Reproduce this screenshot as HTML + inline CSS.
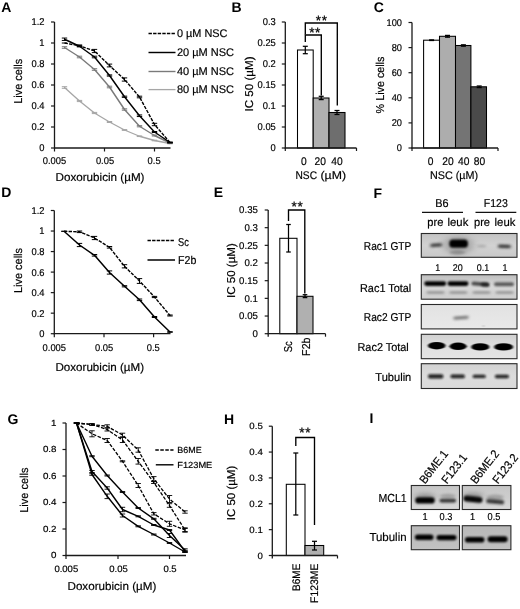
<!DOCTYPE html>
<html lang="en"><head><meta charset="utf-8"><title>Figure</title>
<style>html,body{margin:0;padding:0;background:#fff}body{width:520px;height:609px;overflow:hidden}svg{display:block}text{font-family:"Liberation Sans",Arial,sans-serif}</style>
</head><body>
<svg width="520" height="609" viewBox="0 0 520 609" font-family="Liberation Sans, Arial, sans-serif" text-rendering="geometricPrecision">
<defs>
<filter id="b1" x="-30%" y="-60%" width="160%" height="220%"><feGaussianBlur stdDeviation="1.1 0.8"/></filter>
<filter id="b2" x="-30%" y="-80%" width="160%" height="260%"><feGaussianBlur stdDeviation="1.6 1.1"/></filter>
<filter id="b4" x="-50%" y="-80%" width="200%" height="260%"><feGaussianBlur stdDeviation="3 2.2"/></filter>
<filter id="b3" x="-30%" y="-80%" width="160%" height="260%"><feGaussianBlur stdDeviation="0.8 0.6"/></filter>
<linearGradient id="g1" x1="0" y1="0" x2="0" y2="1"><stop offset="0" stop-color="#c3c3c3"/><stop offset="0.5" stop-color="#d2d2d2"/><stop offset="1" stop-color="#c8c8c8"/></linearGradient>
<linearGradient id="g2" x1="0" y1="0" x2="0" y2="1"><stop offset="0" stop-color="#bdbdbd"/><stop offset="0.45" stop-color="#d9d9d9"/><stop offset="1" stop-color="#cfcfcf"/></linearGradient>
<linearGradient id="g3" x1="0" y1="0" x2="0" y2="1"><stop offset="0" stop-color="#e2e2e2"/><stop offset="1" stop-color="#e9e9e9"/></linearGradient>
<linearGradient id="g4" x1="0" y1="0" x2="0" y2="1"><stop offset="0" stop-color="#d0d0d0"/><stop offset="0.5" stop-color="#e0e0e0"/><stop offset="1" stop-color="#e4e4e4"/></linearGradient>
<linearGradient id="g5" x1="0" y1="0" x2="0" y2="1"><stop offset="0" stop-color="#d0d0d0"/><stop offset="1" stop-color="#c4c4c4"/></linearGradient>
<linearGradient id="g7" x1="0" y1="0" x2="0" y2="1"><stop offset="0" stop-color="#d2d2d2"/><stop offset="0.5" stop-color="#dcdcdc"/><stop offset="1" stop-color="#dadada"/></linearGradient>
<linearGradient id="g8" x1="0" y1="0" x2="0" y2="1"><stop offset="0" stop-color="#c6c6c6"/><stop offset="0.55" stop-color="#cecece"/><stop offset="1" stop-color="#dadada"/></linearGradient>
<linearGradient id="g6" x1="0" y1="0" x2="0" y2="1"><stop offset="0" stop-color="#b8b8b8"/><stop offset="1" stop-color="#c2c2c2"/></linearGradient>
</defs>
<rect width="520" height="609" fill="#fff"/>
<text transform="translate(1.2 11.9) scale(1 1)" font-size="14" text-anchor="start" font-weight="bold" fill="#000">A</text>
<line x1="54.5" y1="22" x2="54.5" y2="148.5" stroke="#1a1a1a" stroke-width="1.3"/>
<line x1="54.0" y1="148" x2="170.5" y2="148" stroke="#1a1a1a" stroke-width="1.3"/>
<line x1="51.0" y1="148" x2="54.5" y2="148" stroke="#1a1a1a" stroke-width="1.2"/>
<text transform="translate(44.5 151.4) scale(0.95 1)" font-size="9.86" text-anchor="end" fill="#000" stroke="#000" stroke-width="0.18">0</text>
<line x1="51.0" y1="127" x2="54.5" y2="127" stroke="#1a1a1a" stroke-width="1.2"/>
<text transform="translate(44.5 130.4) scale(0.95 1)" font-size="9.86" text-anchor="end" fill="#000" stroke="#000" stroke-width="0.18">0.2</text>
<line x1="51.0" y1="106" x2="54.5" y2="106" stroke="#1a1a1a" stroke-width="1.2"/>
<text transform="translate(44.5 109.4) scale(0.95 1)" font-size="9.86" text-anchor="end" fill="#000" stroke="#000" stroke-width="0.18">0.4</text>
<line x1="51.0" y1="85" x2="54.5" y2="85" stroke="#1a1a1a" stroke-width="1.2"/>
<text transform="translate(44.5 88.4) scale(0.95 1)" font-size="9.86" text-anchor="end" fill="#000" stroke="#000" stroke-width="0.18">0.6</text>
<line x1="51.0" y1="64" x2="54.5" y2="64" stroke="#1a1a1a" stroke-width="1.2"/>
<text transform="translate(44.5 67.4) scale(0.95 1)" font-size="9.86" text-anchor="end" fill="#000" stroke="#000" stroke-width="0.18">0.8</text>
<line x1="51.0" y1="43" x2="54.5" y2="43" stroke="#1a1a1a" stroke-width="1.2"/>
<text transform="translate(44.5 46.4) scale(0.95 1)" font-size="9.86" text-anchor="end" fill="#000" stroke="#000" stroke-width="0.18">1</text>
<line x1="51.0" y1="22" x2="54.5" y2="22" stroke="#1a1a1a" stroke-width="1.2"/>
<text transform="translate(44.5 25.4) scale(0.95 1)" font-size="9.86" text-anchor="end" fill="#000" stroke="#000" stroke-width="0.18">1.2</text>
<line x1="54.5" y1="148" x2="54.5" y2="151.5" stroke="#1a1a1a" stroke-width="1.2"/>
<text transform="translate(54.5 164.4) scale(0.95 1)" font-size="9.86" text-anchor="middle" fill="#000" stroke="#000" stroke-width="0.18">0.005</text>
<line x1="104.5" y1="148" x2="104.5" y2="151.5" stroke="#1a1a1a" stroke-width="1.2"/>
<text transform="translate(105.0 164.4) scale(0.95 1)" font-size="9.86" text-anchor="middle" fill="#000" stroke="#000" stroke-width="0.18">0.05</text>
<line x1="154.5" y1="148" x2="154.5" y2="151.5" stroke="#1a1a1a" stroke-width="1.2"/>
<text transform="translate(154.1 164.4) scale(0.95 1)" font-size="9.86" text-anchor="middle" fill="#000" stroke="#000" stroke-width="0.18">0.5</text>
<text transform="translate(22.4 81.3) rotate(-90) scale(0.955 1)" font-size="11.45" text-anchor="middle" fill="#000" stroke="#000" stroke-width="0.18">Live cells</text>
<text transform="translate(55.5 180.8)" font-size="11.45" text-anchor="start" textLength="89" lengthAdjust="spacingAndGlyphs" fill="#000" stroke="#000" stroke-width="0.18">Doxorubicin (µM)</text>
<polyline points="64.50,87.50 79.50,101.00 94.50,113.00 109.50,122.00 124.50,130.00 139.50,136.25 154.50,140.50 170.00,143.50" fill="none" stroke="#a6a6a6" stroke-width="1.3" stroke-linejoin="round"/>
<line x1="64.5" y1="86.7" x2="64.5" y2="88.3" stroke="#a6a6a6" stroke-width="1"/>
<line x1="61.8" y1="86.7" x2="67.2" y2="86.7" stroke="#a6a6a6" stroke-width="1"/>
<line x1="61.8" y1="88.3" x2="67.2" y2="88.3" stroke="#a6a6a6" stroke-width="1"/>
<line x1="79.5" y1="100.4" x2="79.5" y2="101.6" stroke="#a6a6a6" stroke-width="1"/>
<line x1="76.8" y1="100.4" x2="82.2" y2="100.4" stroke="#a6a6a6" stroke-width="1"/>
<line x1="76.8" y1="101.6" x2="82.2" y2="101.6" stroke="#a6a6a6" stroke-width="1"/>
<line x1="94.5" y1="112.4" x2="94.5" y2="113.6" stroke="#a6a6a6" stroke-width="1"/>
<line x1="91.8" y1="112.4" x2="97.2" y2="112.4" stroke="#a6a6a6" stroke-width="1"/>
<line x1="91.8" y1="113.6" x2="97.2" y2="113.6" stroke="#a6a6a6" stroke-width="1"/>
<line x1="109.5" y1="121.5" x2="109.5" y2="122.5" stroke="#a6a6a6" stroke-width="1"/>
<line x1="106.8" y1="121.5" x2="112.2" y2="121.5" stroke="#a6a6a6" stroke-width="1"/>
<line x1="106.8" y1="122.5" x2="112.2" y2="122.5" stroke="#a6a6a6" stroke-width="1"/>
<line x1="124.5" y1="129.6" x2="124.5" y2="130.4" stroke="#a6a6a6" stroke-width="1"/>
<line x1="121.8" y1="129.6" x2="127.2" y2="129.6" stroke="#a6a6a6" stroke-width="1"/>
<line x1="121.8" y1="130.4" x2="127.2" y2="130.4" stroke="#a6a6a6" stroke-width="1"/>
<line x1="139.5" y1="135.95" x2="139.5" y2="136.55" stroke="#a6a6a6" stroke-width="1"/>
<line x1="136.8" y1="135.95" x2="142.2" y2="135.95" stroke="#a6a6a6" stroke-width="1"/>
<line x1="136.8" y1="136.55" x2="142.2" y2="136.55" stroke="#a6a6a6" stroke-width="1"/>
<line x1="154.5" y1="140.2" x2="154.5" y2="140.8" stroke="#a6a6a6" stroke-width="1"/>
<line x1="151.8" y1="140.2" x2="157.2" y2="140.2" stroke="#a6a6a6" stroke-width="1"/>
<line x1="151.8" y1="140.8" x2="157.2" y2="140.8" stroke="#a6a6a6" stroke-width="1"/>
<line x1="170" y1="143.2" x2="170" y2="143.8" stroke="#a6a6a6" stroke-width="1"/>
<line x1="167.3" y1="143.2" x2="172.7" y2="143.2" stroke="#a6a6a6" stroke-width="1"/>
<line x1="167.3" y1="143.8" x2="172.7" y2="143.8" stroke="#a6a6a6" stroke-width="1"/>
<polyline points="64.50,47.50 79.50,57.00 94.50,69.50 109.50,87.00 124.50,109.50 139.50,126.25 154.50,135.50 170.00,143.00" fill="none" stroke="#7a7a7a" stroke-width="1.4" stroke-linejoin="round"/>
<line x1="64.5" y1="46.7" x2="64.5" y2="48.3" stroke="#7a7a7a" stroke-width="1"/>
<line x1="61.8" y1="46.7" x2="67.2" y2="46.7" stroke="#7a7a7a" stroke-width="1"/>
<line x1="61.8" y1="48.3" x2="67.2" y2="48.3" stroke="#7a7a7a" stroke-width="1"/>
<line x1="79.5" y1="56.2" x2="79.5" y2="57.8" stroke="#7a7a7a" stroke-width="1"/>
<line x1="76.8" y1="56.2" x2="82.2" y2="56.2" stroke="#7a7a7a" stroke-width="1"/>
<line x1="76.8" y1="57.8" x2="82.2" y2="57.8" stroke="#7a7a7a" stroke-width="1"/>
<line x1="94.5" y1="68.7" x2="94.5" y2="70.3" stroke="#7a7a7a" stroke-width="1"/>
<line x1="91.8" y1="68.7" x2="97.2" y2="68.7" stroke="#7a7a7a" stroke-width="1"/>
<line x1="91.8" y1="70.3" x2="97.2" y2="70.3" stroke="#7a7a7a" stroke-width="1"/>
<line x1="109.5" y1="86.2" x2="109.5" y2="87.8" stroke="#7a7a7a" stroke-width="1"/>
<line x1="106.8" y1="86.2" x2="112.2" y2="86.2" stroke="#7a7a7a" stroke-width="1"/>
<line x1="106.8" y1="87.8" x2="112.2" y2="87.8" stroke="#7a7a7a" stroke-width="1"/>
<line x1="124.5" y1="108.8" x2="124.5" y2="110.2" stroke="#7a7a7a" stroke-width="1"/>
<line x1="121.8" y1="108.8" x2="127.2" y2="108.8" stroke="#7a7a7a" stroke-width="1"/>
<line x1="121.8" y1="110.2" x2="127.2" y2="110.2" stroke="#7a7a7a" stroke-width="1"/>
<line x1="139.5" y1="125.65" x2="139.5" y2="126.85" stroke="#7a7a7a" stroke-width="1"/>
<line x1="136.8" y1="125.65" x2="142.2" y2="125.65" stroke="#7a7a7a" stroke-width="1"/>
<line x1="136.8" y1="126.85" x2="142.2" y2="126.85" stroke="#7a7a7a" stroke-width="1"/>
<line x1="154.5" y1="135.0" x2="154.5" y2="136.0" stroke="#7a7a7a" stroke-width="1"/>
<line x1="151.8" y1="135.0" x2="157.2" y2="135.0" stroke="#7a7a7a" stroke-width="1"/>
<line x1="151.8" y1="136.0" x2="157.2" y2="136.0" stroke="#7a7a7a" stroke-width="1"/>
<line x1="170" y1="142.7" x2="170" y2="143.3" stroke="#7a7a7a" stroke-width="1"/>
<line x1="167.3" y1="142.7" x2="172.7" y2="142.7" stroke="#7a7a7a" stroke-width="1"/>
<line x1="167.3" y1="143.3" x2="172.7" y2="143.3" stroke="#7a7a7a" stroke-width="1"/>
<polyline points="64.50,39.25 79.50,46.25 94.50,57.00 109.50,75.50 124.50,96.75 139.50,115.75 154.50,132.00 170.00,142.50" fill="none" stroke="#000" stroke-width="1.45" stroke-linejoin="round"/>
<line x1="64.5" y1="38.05" x2="64.5" y2="40.45" stroke="#000" stroke-width="1"/>
<line x1="61.8" y1="38.05" x2="67.2" y2="38.05" stroke="#000" stroke-width="1"/>
<line x1="61.8" y1="40.45" x2="67.2" y2="40.45" stroke="#000" stroke-width="1"/>
<line x1="79.5" y1="45.65" x2="79.5" y2="46.85" stroke="#000" stroke-width="1"/>
<line x1="76.8" y1="45.65" x2="82.2" y2="45.65" stroke="#000" stroke-width="1"/>
<line x1="76.8" y1="46.85" x2="82.2" y2="46.85" stroke="#000" stroke-width="1"/>
<line x1="94.5" y1="56.2" x2="94.5" y2="57.8" stroke="#000" stroke-width="1"/>
<line x1="91.8" y1="56.2" x2="97.2" y2="56.2" stroke="#000" stroke-width="1"/>
<line x1="91.8" y1="57.8" x2="97.2" y2="57.8" stroke="#000" stroke-width="1"/>
<line x1="109.5" y1="74.9" x2="109.5" y2="76.1" stroke="#000" stroke-width="1"/>
<line x1="106.8" y1="74.9" x2="112.2" y2="74.9" stroke="#000" stroke-width="1"/>
<line x1="106.8" y1="76.1" x2="112.2" y2="76.1" stroke="#000" stroke-width="1"/>
<line x1="124.5" y1="96.15" x2="124.5" y2="97.35" stroke="#000" stroke-width="1"/>
<line x1="121.8" y1="96.15" x2="127.2" y2="96.15" stroke="#000" stroke-width="1"/>
<line x1="121.8" y1="97.35" x2="127.2" y2="97.35" stroke="#000" stroke-width="1"/>
<line x1="139.5" y1="114.95" x2="139.5" y2="116.55" stroke="#000" stroke-width="1"/>
<line x1="136.8" y1="114.95" x2="142.2" y2="114.95" stroke="#000" stroke-width="1"/>
<line x1="136.8" y1="116.55" x2="142.2" y2="116.55" stroke="#000" stroke-width="1"/>
<line x1="154.5" y1="131.5" x2="154.5" y2="132.5" stroke="#000" stroke-width="1"/>
<line x1="151.8" y1="131.5" x2="157.2" y2="131.5" stroke="#000" stroke-width="1"/>
<line x1="151.8" y1="132.5" x2="157.2" y2="132.5" stroke="#000" stroke-width="1"/>
<line x1="170" y1="142.2" x2="170" y2="142.8" stroke="#000" stroke-width="1"/>
<line x1="167.3" y1="142.2" x2="172.7" y2="142.2" stroke="#000" stroke-width="1"/>
<line x1="167.3" y1="142.8" x2="172.7" y2="142.8" stroke="#000" stroke-width="1"/>
<polyline points="64.50,43.00 79.50,45.75 94.50,51.00 109.50,65.50 124.50,79.50 139.50,97.00 154.50,124.50 170.00,142.50" fill="none" stroke="#000" stroke-width="1.4" stroke-linejoin="round" stroke-dasharray="3.4 1.2"/>
<line x1="61.8" y1="43" x2="67.2" y2="43" stroke="#000" stroke-width="1"/>
<line x1="79.5" y1="44.95" x2="79.5" y2="46.55" stroke="#000" stroke-width="1"/>
<line x1="76.8" y1="44.95" x2="82.2" y2="44.95" stroke="#000" stroke-width="1"/>
<line x1="76.8" y1="46.55" x2="82.2" y2="46.55" stroke="#000" stroke-width="1"/>
<line x1="94.5" y1="49.4" x2="94.5" y2="52.6" stroke="#000" stroke-width="1"/>
<line x1="91.8" y1="49.4" x2="97.2" y2="49.4" stroke="#000" stroke-width="1"/>
<line x1="91.8" y1="52.6" x2="97.2" y2="52.6" stroke="#000" stroke-width="1"/>
<line x1="109.5" y1="64.1" x2="109.5" y2="66.9" stroke="#000" stroke-width="1"/>
<line x1="106.8" y1="64.1" x2="112.2" y2="64.1" stroke="#000" stroke-width="1"/>
<line x1="106.8" y1="66.9" x2="112.2" y2="66.9" stroke="#000" stroke-width="1"/>
<line x1="124.5" y1="77.9" x2="124.5" y2="81.1" stroke="#000" stroke-width="1"/>
<line x1="121.8" y1="77.9" x2="127.2" y2="77.9" stroke="#000" stroke-width="1"/>
<line x1="121.8" y1="81.1" x2="127.2" y2="81.1" stroke="#000" stroke-width="1"/>
<line x1="139.5" y1="96.2" x2="139.5" y2="97.8" stroke="#000" stroke-width="1"/>
<line x1="136.8" y1="96.2" x2="142.2" y2="96.2" stroke="#000" stroke-width="1"/>
<line x1="136.8" y1="97.8" x2="142.2" y2="97.8" stroke="#000" stroke-width="1"/>
<line x1="154.5" y1="123.3" x2="154.5" y2="125.7" stroke="#000" stroke-width="1"/>
<line x1="151.8" y1="123.3" x2="157.2" y2="123.3" stroke="#000" stroke-width="1"/>
<line x1="151.8" y1="125.7" x2="157.2" y2="125.7" stroke="#000" stroke-width="1"/>
<line x1="170" y1="142.2" x2="170" y2="142.8" stroke="#000" stroke-width="1"/>
<line x1="167.3" y1="142.2" x2="172.7" y2="142.2" stroke="#000" stroke-width="1"/>
<line x1="167.3" y1="142.8" x2="172.7" y2="142.8" stroke="#000" stroke-width="1"/>
<line x1="148.5" y1="33.5" x2="175.5" y2="33.5" stroke="#000" stroke-width="1.4" stroke-dasharray="3.4 1.2"/>
<text transform="translate(177 37.3)" font-size="11.13" text-anchor="start" textLength="50.5" lengthAdjust="spacingAndGlyphs" fill="#000" stroke="#000" stroke-width="0.18">0 µM NSC</text>
<line x1="148.5" y1="52.5" x2="175.5" y2="52.5" stroke="#000" stroke-width="1.45"/>
<text transform="translate(177 56.3)" font-size="11.13" text-anchor="start" textLength="57" lengthAdjust="spacingAndGlyphs" fill="#000" stroke="#000" stroke-width="0.18">20 µM NSC</text>
<line x1="148.5" y1="71.5" x2="175.5" y2="71.5" stroke="#7a7a7a" stroke-width="1.4"/>
<text transform="translate(177 75.3)" font-size="11.13" text-anchor="start" textLength="57" lengthAdjust="spacingAndGlyphs" fill="#000" stroke="#000" stroke-width="0.18">40 µM NSC</text>
<line x1="148.5" y1="89.6" x2="175.5" y2="89.6" stroke="#a6a6a6" stroke-width="1.3"/>
<text transform="translate(177 93.39999999999999)" font-size="11.13" text-anchor="start" textLength="57" lengthAdjust="spacingAndGlyphs" fill="#000" stroke="#000" stroke-width="0.18">80 µM NSC</text>
<text transform="translate(231.6 12) scale(1 1)" font-size="14" text-anchor="start" font-weight="bold" fill="#000">B</text>
<line x1="281.8" y1="148" x2="285.3" y2="148" stroke="#1a1a1a" stroke-width="1.2"/>
<text transform="translate(275.8 151.4) scale(0.95 1)" font-size="9.86" text-anchor="end" fill="#000" stroke="#000" stroke-width="0.18">0</text>
<line x1="281.8" y1="127" x2="285.3" y2="127" stroke="#1a1a1a" stroke-width="1.2"/>
<text transform="translate(275.8 130.4) scale(0.95 1)" font-size="9.86" text-anchor="end" fill="#000" stroke="#000" stroke-width="0.18">0.05</text>
<line x1="281.8" y1="106" x2="285.3" y2="106" stroke="#1a1a1a" stroke-width="1.2"/>
<text transform="translate(275.8 109.4) scale(0.95 1)" font-size="9.86" text-anchor="end" fill="#000" stroke="#000" stroke-width="0.18">0.1</text>
<line x1="281.8" y1="85" x2="285.3" y2="85" stroke="#1a1a1a" stroke-width="1.2"/>
<text transform="translate(275.8 88.4) scale(0.95 1)" font-size="9.86" text-anchor="end" fill="#000" stroke="#000" stroke-width="0.18">0.15</text>
<line x1="281.8" y1="64" x2="285.3" y2="64" stroke="#1a1a1a" stroke-width="1.2"/>
<text transform="translate(275.8 67.4) scale(0.95 1)" font-size="9.86" text-anchor="end" fill="#000" stroke="#000" stroke-width="0.18">0.2</text>
<line x1="281.8" y1="43" x2="285.3" y2="43" stroke="#1a1a1a" stroke-width="1.2"/>
<text transform="translate(275.8 46.4) scale(0.95 1)" font-size="9.86" text-anchor="end" fill="#000" stroke="#000" stroke-width="0.18">0.25</text>
<line x1="281.8" y1="22" x2="285.3" y2="22" stroke="#1a1a1a" stroke-width="1.2"/>
<text transform="translate(275.8 25.4) scale(0.95 1)" font-size="9.86" text-anchor="end" fill="#000" stroke="#000" stroke-width="0.18">0.3</text>
<rect x="297.5" y="50" width="15.7" height="98" fill="#fff" stroke="#000" stroke-width="1.05"/>
<rect x="313.2" y="98" width="15.8" height="50" fill="#b0b0b0" stroke="#000" stroke-width="1.05"/>
<rect x="329" y="112.5" width="16" height="35.5" fill="#6e6e6e" stroke="#000" stroke-width="1.05"/>
<line x1="285.3" y1="22" x2="285.3" y2="148.5" stroke="#1a1a1a" stroke-width="1.3"/>
<line x1="284.8" y1="148" x2="356.5" y2="148" stroke="#1a1a1a" stroke-width="1.3"/>
<line x1="356.5" y1="148" x2="356.5" y2="151" stroke="#1a1a1a" stroke-width="1.2"/>
<line x1="285.3" y1="148" x2="285.3" y2="151" stroke="#1a1a1a" stroke-width="1.2"/>
<line x1="305.3" y1="46.3" x2="305.3" y2="53.7" stroke="#000" stroke-width="1.25"/>
<line x1="302.8" y1="46.3" x2="307.8" y2="46.3" stroke="#000" stroke-width="1.25"/>
<line x1="302.8" y1="53.7" x2="307.8" y2="53.7" stroke="#000" stroke-width="1.25"/>
<line x1="321.2" y1="96.3" x2="321.2" y2="99.6" stroke="#000" stroke-width="1.25"/>
<line x1="318.7" y1="96.3" x2="323.7" y2="96.3" stroke="#000" stroke-width="1.25"/>
<line x1="318.7" y1="99.6" x2="323.7" y2="99.6" stroke="#000" stroke-width="1.25"/>
<line x1="337" y1="110.5" x2="337" y2="114.5" stroke="#000" stroke-width="1.25"/>
<line x1="334.5" y1="110.5" x2="339.5" y2="110.5" stroke="#000" stroke-width="1.25"/>
<line x1="334.5" y1="114.5" x2="339.5" y2="114.5" stroke="#000" stroke-width="1.25"/>
<polyline points="305.3,42 305.3,35 321.3,35 321.3,95.5" fill="none" stroke="#000" stroke-width="1.35"/>
<polyline points="305.3,34.5 305.3,23 337.3,23 337.3,105.5" fill="none" stroke="#000" stroke-width="1.35"/>
<text transform="translate(315.1 37.4) scale(1.0 1)" font-size="13.5" text-anchor="middle" fill="#000" stroke="#000" stroke-width="0.25" letter-spacing="0.7">**</text>
<text transform="translate(321.8 24.9) scale(1.0 1)" font-size="13.5" text-anchor="middle" fill="#000" stroke="#000" stroke-width="0.25" letter-spacing="0.7">**</text>
<text transform="translate(303.8 164.5) scale(0.93 1)" font-size="11.02" text-anchor="middle" fill="#000" stroke="#000" stroke-width="0.18">0</text>
<text transform="translate(320.3 164.5) scale(0.93 1)" font-size="11.02" text-anchor="middle" fill="#000" stroke="#000" stroke-width="0.18">20</text>
<text transform="translate(337 164.5) scale(0.93 1)" font-size="11.02" text-anchor="middle" fill="#000" stroke="#000" stroke-width="0.18">40</text>
<text transform="translate(295.5 178.8) scale(0.915 1)" font-size="11.13" text-anchor="start" fill="#000" stroke="#000" stroke-width="0.18">NSC</text>
<text transform="translate(320.5 178.8)" font-size="11.13" text-anchor="start" textLength="25.5" lengthAdjust="spacingAndGlyphs" fill="#000" stroke="#000" stroke-width="0.18">(µM)</text>
<text transform="translate(253.4 84) rotate(-90) scale(1.015 1)" font-size="11.45" text-anchor="middle" fill="#000" stroke="#000" stroke-width="0.18">IC 50 (µM)</text>
<text transform="translate(373.8 12) scale(1 1)" font-size="14" text-anchor="start" font-weight="bold" fill="#000">C</text>
<line x1="408.5" y1="148.0" x2="412" y2="148.0" stroke="#1a1a1a" stroke-width="1.2"/>
<text transform="translate(402 151.3) scale(0.94 1)" font-size="9.86" text-anchor="end" fill="#000" stroke="#000" stroke-width="0.18">0</text>
<line x1="408.5" y1="122.9" x2="412" y2="122.9" stroke="#1a1a1a" stroke-width="1.2"/>
<text transform="translate(402 126.2) scale(0.94 1)" font-size="9.86" text-anchor="end" fill="#000" stroke="#000" stroke-width="0.18">20</text>
<line x1="408.5" y1="97.8" x2="412" y2="97.8" stroke="#1a1a1a" stroke-width="1.2"/>
<text transform="translate(402 101.1) scale(0.94 1)" font-size="9.86" text-anchor="end" fill="#000" stroke="#000" stroke-width="0.18">40</text>
<line x1="408.5" y1="72.69999999999999" x2="412" y2="72.69999999999999" stroke="#1a1a1a" stroke-width="1.2"/>
<text transform="translate(402 75.99999999999999) scale(0.94 1)" font-size="9.86" text-anchor="end" fill="#000" stroke="#000" stroke-width="0.18">60</text>
<line x1="408.5" y1="47.599999999999994" x2="412" y2="47.599999999999994" stroke="#1a1a1a" stroke-width="1.2"/>
<text transform="translate(402 50.89999999999999) scale(0.94 1)" font-size="9.86" text-anchor="end" fill="#000" stroke="#000" stroke-width="0.18">80</text>
<line x1="408.5" y1="22.5" x2="412" y2="22.5" stroke="#1a1a1a" stroke-width="1.2"/>
<text transform="translate(402 25.8) scale(0.94 1)" font-size="9.86" text-anchor="end" fill="#000" stroke="#000" stroke-width="0.18">100</text>
<rect x="423.6" y="40.2" width="15.9" height="107.8" fill="#fff" stroke="#000" stroke-width="1.05"/>
<rect x="439.5" y="36.3" width="16" height="111.7" fill="#adadad" stroke="#000" stroke-width="1.05"/>
<rect x="455.5" y="45.5" width="15.4" height="102.5" fill="#747474" stroke="#000" stroke-width="1.05"/>
<rect x="470.9" y="86.8" width="15.6" height="61.2" fill="#4a4a4a" stroke="#000" stroke-width="1.05"/>
<line x1="412" y1="22.5" x2="412" y2="148.5" stroke="#1a1a1a" stroke-width="1.3"/>
<line x1="411.5" y1="148" x2="498" y2="148" stroke="#1a1a1a" stroke-width="1.3"/>
<line x1="498" y1="148" x2="498" y2="151" stroke="#1a1a1a" stroke-width="1.2"/>
<line x1="412" y1="148" x2="412" y2="151" stroke="#1a1a1a" stroke-width="1.2"/>
<line x1="431.6" y1="39.9" x2="431.6" y2="40.5" stroke="#000" stroke-width="1.25"/>
<line x1="429.1" y1="39.9" x2="434.1" y2="39.9" stroke="#000" stroke-width="1.25"/>
<line x1="429.1" y1="40.5" x2="434.1" y2="40.5" stroke="#000" stroke-width="1.25"/>
<line x1="447.5" y1="35.4" x2="447.5" y2="37.2" stroke="#000" stroke-width="1.25"/>
<line x1="445.0" y1="35.4" x2="450.0" y2="35.4" stroke="#000" stroke-width="1.25"/>
<line x1="445.0" y1="37.2" x2="450.0" y2="37.2" stroke="#000" stroke-width="1.25"/>
<line x1="463.4" y1="44.8" x2="463.4" y2="46.2" stroke="#000" stroke-width="1.25"/>
<line x1="460.9" y1="44.8" x2="465.9" y2="44.8" stroke="#000" stroke-width="1.25"/>
<line x1="460.9" y1="46.2" x2="465.9" y2="46.2" stroke="#000" stroke-width="1.25"/>
<line x1="479.2" y1="86" x2="479.2" y2="87.6" stroke="#000" stroke-width="1.25"/>
<line x1="476.7" y1="86" x2="481.7" y2="86" stroke="#000" stroke-width="1.25"/>
<line x1="476.7" y1="87.6" x2="481.7" y2="87.6" stroke="#000" stroke-width="1.25"/>
<text transform="translate(430.5 164.5) scale(0.93 1)" font-size="11.02" text-anchor="middle" fill="#000" stroke="#000" stroke-width="0.18">0</text>
<text transform="translate(448 164.5) scale(0.93 1)" font-size="11.02" text-anchor="middle" fill="#000" stroke="#000" stroke-width="0.18">20</text>
<text transform="translate(463.8 164.5) scale(0.93 1)" font-size="11.02" text-anchor="middle" fill="#000" stroke="#000" stroke-width="0.18">40</text>
<text transform="translate(479.5 164.5) scale(0.93 1)" font-size="11.02" text-anchor="middle" fill="#000" stroke="#000" stroke-width="0.18">80</text>
<text transform="translate(430 178.8)" font-size="11.13" text-anchor="start" textLength="48" lengthAdjust="spacingAndGlyphs" fill="#000" stroke="#000" stroke-width="0.18">NSC (µM)</text>
<text transform="translate(383.8 85) rotate(-90) scale(0.94 1)" font-size="11.45" text-anchor="middle" fill="#000" stroke="#000" stroke-width="0.18">% Live cells</text>
<text transform="translate(1.3 197.3) scale(1 1)" font-size="14" text-anchor="start" font-weight="bold" fill="#000">D</text>
<line x1="54.3" y1="210.5" x2="54.3" y2="334.2" stroke="#1a1a1a" stroke-width="1.3"/>
<line x1="53.8" y1="333.7" x2="170.5" y2="333.7" stroke="#1a1a1a" stroke-width="1.3"/>
<line x1="50.8" y1="333.7" x2="54.3" y2="333.7" stroke="#1a1a1a" stroke-width="1.2"/>
<text transform="translate(44.5 337.09999999999997) scale(0.95 1)" font-size="9.86" text-anchor="end" fill="#000" stroke="#000" stroke-width="0.18">0</text>
<line x1="50.8" y1="313.16666666666663" x2="54.3" y2="313.16666666666663" stroke="#1a1a1a" stroke-width="1.2"/>
<text transform="translate(44.5 316.5666666666666) scale(0.95 1)" font-size="9.86" text-anchor="end" fill="#000" stroke="#000" stroke-width="0.18">0.2</text>
<line x1="50.8" y1="292.6333333333333" x2="54.3" y2="292.6333333333333" stroke="#1a1a1a" stroke-width="1.2"/>
<text transform="translate(44.5 296.0333333333333) scale(0.95 1)" font-size="9.86" text-anchor="end" fill="#000" stroke="#000" stroke-width="0.18">0.4</text>
<line x1="50.8" y1="272.1" x2="54.3" y2="272.1" stroke="#1a1a1a" stroke-width="1.2"/>
<text transform="translate(44.5 275.5) scale(0.95 1)" font-size="9.86" text-anchor="end" fill="#000" stroke="#000" stroke-width="0.18">0.6</text>
<line x1="50.8" y1="251.56666666666666" x2="54.3" y2="251.56666666666666" stroke="#1a1a1a" stroke-width="1.2"/>
<text transform="translate(44.5 254.96666666666667) scale(0.95 1)" font-size="9.86" text-anchor="end" fill="#000" stroke="#000" stroke-width="0.18">0.8</text>
<line x1="50.8" y1="231.03333333333333" x2="54.3" y2="231.03333333333333" stroke="#1a1a1a" stroke-width="1.2"/>
<text transform="translate(44.5 234.43333333333334) scale(0.95 1)" font-size="9.86" text-anchor="end" fill="#000" stroke="#000" stroke-width="0.18">1</text>
<line x1="50.8" y1="210.5" x2="54.3" y2="210.5" stroke="#1a1a1a" stroke-width="1.2"/>
<text transform="translate(44.5 213.9) scale(0.95 1)" font-size="9.86" text-anchor="end" fill="#000" stroke="#000" stroke-width="0.18">1.2</text>
<line x1="54.3" y1="333.7" x2="54.3" y2="337.2" stroke="#1a1a1a" stroke-width="1.2"/>
<text transform="translate(54.3 350.5) scale(0.95 1)" font-size="9.86" text-anchor="middle" fill="#000" stroke="#000" stroke-width="0.18">0.005</text>
<line x1="104" y1="333.7" x2="104" y2="337.2" stroke="#1a1a1a" stroke-width="1.2"/>
<text transform="translate(104.1 350.5) scale(0.95 1)" font-size="9.86" text-anchor="middle" fill="#000" stroke="#000" stroke-width="0.18">0.05</text>
<line x1="153.6" y1="333.7" x2="153.6" y2="337.2" stroke="#1a1a1a" stroke-width="1.2"/>
<text transform="translate(153.2 350.5) scale(0.95 1)" font-size="9.86" text-anchor="middle" fill="#000" stroke="#000" stroke-width="0.18">0.5</text>
<text transform="translate(22.4 270.5) rotate(-90) scale(0.955 1)" font-size="11.45" text-anchor="middle" fill="#000" stroke="#000" stroke-width="0.18">Live cells</text>
<text transform="translate(55.5 370.5)" font-size="11.45" text-anchor="start" textLength="88.5" lengthAdjust="spacingAndGlyphs" fill="#000" stroke="#000" stroke-width="0.18">Doxorubicin (µM)</text>
<polyline points="64.00,231.30 79.50,245.00 94.50,255.30 109.50,272.50 124.50,286.30 139.50,299.80 154.50,317.00 170.00,332.00" fill="none" stroke="#000" stroke-width="1.5" stroke-linejoin="round"/>
<line x1="61.3" y1="231.3" x2="66.7" y2="231.3" stroke="#000" stroke-width="1"/>
<line x1="79.5" y1="243.4" x2="79.5" y2="246.6" stroke="#000" stroke-width="1"/>
<line x1="76.8" y1="243.4" x2="82.2" y2="243.4" stroke="#000" stroke-width="1"/>
<line x1="76.8" y1="246.6" x2="82.2" y2="246.6" stroke="#000" stroke-width="1"/>
<line x1="94.5" y1="254.5" x2="94.5" y2="256.1" stroke="#000" stroke-width="1"/>
<line x1="91.8" y1="254.5" x2="97.2" y2="254.5" stroke="#000" stroke-width="1"/>
<line x1="91.8" y1="256.1" x2="97.2" y2="256.1" stroke="#000" stroke-width="1"/>
<line x1="109.5" y1="270.9" x2="109.5" y2="274.1" stroke="#000" stroke-width="1"/>
<line x1="106.8" y1="270.9" x2="112.2" y2="270.9" stroke="#000" stroke-width="1"/>
<line x1="106.8" y1="274.1" x2="112.2" y2="274.1" stroke="#000" stroke-width="1"/>
<line x1="124.5" y1="285.7" x2="124.5" y2="286.90000000000003" stroke="#000" stroke-width="1"/>
<line x1="121.8" y1="285.7" x2="127.2" y2="285.7" stroke="#000" stroke-width="1"/>
<line x1="121.8" y1="286.90000000000003" x2="127.2" y2="286.90000000000003" stroke="#000" stroke-width="1"/>
<line x1="139.5" y1="299.0" x2="139.5" y2="300.6" stroke="#000" stroke-width="1"/>
<line x1="136.8" y1="299.0" x2="142.2" y2="299.0" stroke="#000" stroke-width="1"/>
<line x1="136.8" y1="300.6" x2="142.2" y2="300.6" stroke="#000" stroke-width="1"/>
<line x1="154.5" y1="316.5" x2="154.5" y2="317.5" stroke="#000" stroke-width="1"/>
<line x1="151.8" y1="316.5" x2="157.2" y2="316.5" stroke="#000" stroke-width="1"/>
<line x1="151.8" y1="317.5" x2="157.2" y2="317.5" stroke="#000" stroke-width="1"/>
<line x1="170" y1="331.7" x2="170" y2="332.3" stroke="#000" stroke-width="1"/>
<line x1="167.3" y1="331.7" x2="172.7" y2="331.7" stroke="#000" stroke-width="1"/>
<line x1="167.3" y1="332.3" x2="172.7" y2="332.3" stroke="#000" stroke-width="1"/>
<polyline points="64.00,231.30 79.50,231.80 94.50,238.00 109.50,247.30 124.50,266.30 139.50,281.00 154.50,297.00 170.00,315.50" fill="none" stroke="#000" stroke-width="1.4" stroke-linejoin="round" stroke-dasharray="3.4 1.2"/>
<line x1="61.3" y1="231.3" x2="66.7" y2="231.3" stroke="#000" stroke-width="1"/>
<line x1="79.5" y1="231.0" x2="79.5" y2="232.60000000000002" stroke="#000" stroke-width="1"/>
<line x1="76.8" y1="231.0" x2="82.2" y2="231.0" stroke="#000" stroke-width="1"/>
<line x1="76.8" y1="232.60000000000002" x2="82.2" y2="232.60000000000002" stroke="#000" stroke-width="1"/>
<line x1="94.5" y1="236.4" x2="94.5" y2="239.6" stroke="#000" stroke-width="1"/>
<line x1="91.8" y1="236.4" x2="97.2" y2="236.4" stroke="#000" stroke-width="1"/>
<line x1="91.8" y1="239.6" x2="97.2" y2="239.6" stroke="#000" stroke-width="1"/>
<line x1="109.5" y1="246.5" x2="109.5" y2="248.10000000000002" stroke="#000" stroke-width="1"/>
<line x1="106.8" y1="246.5" x2="112.2" y2="246.5" stroke="#000" stroke-width="1"/>
<line x1="106.8" y1="248.10000000000002" x2="112.2" y2="248.10000000000002" stroke="#000" stroke-width="1"/>
<line x1="124.5" y1="264.7" x2="124.5" y2="267.90000000000003" stroke="#000" stroke-width="1"/>
<line x1="121.8" y1="264.7" x2="127.2" y2="264.7" stroke="#000" stroke-width="1"/>
<line x1="121.8" y1="267.90000000000003" x2="127.2" y2="267.90000000000003" stroke="#000" stroke-width="1"/>
<line x1="139.5" y1="278.6" x2="139.5" y2="283.4" stroke="#000" stroke-width="1"/>
<line x1="136.8" y1="278.6" x2="142.2" y2="278.6" stroke="#000" stroke-width="1"/>
<line x1="136.8" y1="283.4" x2="142.2" y2="283.4" stroke="#000" stroke-width="1"/>
<line x1="154.5" y1="296.4" x2="154.5" y2="297.6" stroke="#000" stroke-width="1"/>
<line x1="151.8" y1="296.4" x2="157.2" y2="296.4" stroke="#000" stroke-width="1"/>
<line x1="151.8" y1="297.6" x2="157.2" y2="297.6" stroke="#000" stroke-width="1"/>
<line x1="170" y1="315.0" x2="170" y2="316.0" stroke="#000" stroke-width="1"/>
<line x1="167.3" y1="315.0" x2="172.7" y2="315.0" stroke="#000" stroke-width="1"/>
<line x1="167.3" y1="316.0" x2="172.7" y2="316.0" stroke="#000" stroke-width="1"/>
<line x1="147.5" y1="240.5" x2="175" y2="240.5" stroke="#000" stroke-width="1.4" stroke-dasharray="3.4 1.2"/>
<text transform="translate(178 245.5)" font-size="11.45" text-anchor="start" textLength="10.8" lengthAdjust="spacingAndGlyphs" fill="#000" stroke="#000" stroke-width="0.18">Sc</text>
<line x1="147.5" y1="260" x2="175" y2="260" stroke="#000" stroke-width="1.5"/>
<text transform="translate(178 264)" font-size="11.45" text-anchor="start" textLength="18.3" lengthAdjust="spacingAndGlyphs" fill="#000" stroke="#000" stroke-width="0.18">F2b</text>
<text transform="translate(213.8 197.3) scale(1 1)" font-size="14" text-anchor="start" font-weight="bold" fill="#000">E</text>
<line x1="264.7" y1="333.7" x2="268.2" y2="333.7" stroke="#1a1a1a" stroke-width="1.2"/>
<text transform="translate(257.9 337.09999999999997) scale(0.98 1)" font-size="9.86" text-anchor="end" fill="#000" stroke="#000" stroke-width="0.18">0</text>
<line x1="264.7" y1="316.0285714285714" x2="268.2" y2="316.0285714285714" stroke="#1a1a1a" stroke-width="1.2"/>
<text transform="translate(257.9 319.4285714285714) scale(0.98 1)" font-size="9.86" text-anchor="end" fill="#000" stroke="#000" stroke-width="0.18">0.05</text>
<line x1="264.7" y1="298.35714285714283" x2="268.2" y2="298.35714285714283" stroke="#1a1a1a" stroke-width="1.2"/>
<text transform="translate(257.9 301.7571428571428) scale(0.98 1)" font-size="9.86" text-anchor="end" fill="#000" stroke="#000" stroke-width="0.18">0.1</text>
<line x1="264.7" y1="280.68571428571425" x2="268.2" y2="280.68571428571425" stroke="#1a1a1a" stroke-width="1.2"/>
<text transform="translate(257.9 284.08571428571423) scale(0.98 1)" font-size="9.86" text-anchor="end" fill="#000" stroke="#000" stroke-width="0.18">0.15</text>
<line x1="264.7" y1="263.01428571428573" x2="268.2" y2="263.01428571428573" stroke="#1a1a1a" stroke-width="1.2"/>
<text transform="translate(257.9 266.4142857142857) scale(0.98 1)" font-size="9.86" text-anchor="end" fill="#000" stroke="#000" stroke-width="0.18">0.2</text>
<line x1="264.7" y1="245.34285714285713" x2="268.2" y2="245.34285714285713" stroke="#1a1a1a" stroke-width="1.2"/>
<text transform="translate(257.9 248.74285714285713) scale(0.98 1)" font-size="9.86" text-anchor="end" fill="#000" stroke="#000" stroke-width="0.18">0.25</text>
<line x1="264.7" y1="227.67142857142858" x2="268.2" y2="227.67142857142858" stroke="#1a1a1a" stroke-width="1.2"/>
<text transform="translate(257.9 231.07142857142858) scale(0.98 1)" font-size="9.86" text-anchor="end" fill="#000" stroke="#000" stroke-width="0.18">0.3</text>
<line x1="264.7" y1="210.0" x2="268.2" y2="210.0" stroke="#1a1a1a" stroke-width="1.2"/>
<text transform="translate(257.9 213.4) scale(0.98 1)" font-size="9.86" text-anchor="end" fill="#000" stroke="#000" stroke-width="0.18">0.35</text>
<rect x="279.8" y="238.3" width="17.2" height="95.4" fill="#fff" stroke="#000" stroke-width="1.05"/>
<rect x="297" y="296.3" width="16" height="37.4" fill="#b0b0b0" stroke="#000" stroke-width="1.05"/>
<line x1="268.2" y1="210" x2="268.2" y2="336.7" stroke="#1a1a1a" stroke-width="1.3"/>
<line x1="267.7" y1="333.7" x2="325.5" y2="333.7" stroke="#1a1a1a" stroke-width="1.3"/>
<line x1="325.5" y1="333.7" x2="325.5" y2="336.7" stroke="#1a1a1a" stroke-width="1.2"/>
<line x1="288.5" y1="224.5" x2="288.5" y2="252" stroke="#000" stroke-width="1.25"/>
<line x1="286.2" y1="224.5" x2="290.8" y2="224.5" stroke="#000" stroke-width="1.25"/>
<line x1="286.2" y1="252" x2="290.8" y2="252" stroke="#000" stroke-width="1.25"/>
<line x1="305" y1="294.7" x2="305" y2="297.6" stroke="#000" stroke-width="1.25"/>
<line x1="302.7" y1="294.7" x2="307.3" y2="294.7" stroke="#000" stroke-width="1.25"/>
<line x1="302.7" y1="297.6" x2="307.3" y2="297.6" stroke="#000" stroke-width="1.25"/>
<polyline points="288.5,221 288.5,210 304.8,210 304.8,293.5" fill="none" stroke="#000" stroke-width="1.35"/>
<text transform="translate(297.5 210.9) scale(1.0 1)" font-size="13.5" text-anchor="middle" fill="#000" stroke="#000" stroke-width="0.25" letter-spacing="0.7">**</text>
<text transform="translate(291.9 346.7) rotate(-90)" font-size="11.45" text-anchor="middle" textLength="11.2" lengthAdjust="spacingAndGlyphs" fill="#000" stroke="#000" stroke-width="0.18">Sc</text>
<text transform="translate(310 346.7) rotate(-90)" font-size="11.45" text-anchor="middle" textLength="18.4" lengthAdjust="spacingAndGlyphs" fill="#000" stroke="#000" stroke-width="0.18">F2b</text>
<text transform="translate(235.1 270.6) rotate(-90) scale(1.008 1)" font-size="11.45" text-anchor="middle" fill="#000" stroke="#000" stroke-width="0.18">IC 50 (µM)</text>
<text transform="translate(373.6 197.5) scale(1 1)" font-size="14" text-anchor="start" font-weight="bold" fill="#000">F</text>
<text transform="translate(441.8 207)" font-size="11.45" text-anchor="middle" textLength="13.3" lengthAdjust="spacingAndGlyphs" fill="#000" stroke="#000" stroke-width="0.18">B6</text>
<text transform="translate(495.8 207)" font-size="11.45" text-anchor="middle" textLength="24" lengthAdjust="spacingAndGlyphs" fill="#000" stroke="#000" stroke-width="0.18">F123</text>
<line x1="422" y1="212.3" x2="463" y2="212.3" stroke="#111" stroke-width="1.3"/>
<line x1="475.5" y1="212.3" x2="516.3" y2="212.3" stroke="#111" stroke-width="1.3"/>
<text transform="translate(427.3 226.3)" font-size="11.45" text-anchor="start" textLength="16" lengthAdjust="spacingAndGlyphs" fill="#000" stroke="#000" stroke-width="0.18">pre</text>
<text transform="translate(447.5 226.3)" font-size="11.45" text-anchor="start" textLength="20.8" lengthAdjust="spacingAndGlyphs" fill="#000" stroke="#000" stroke-width="0.18">leuk</text>
<text transform="translate(474 226.3)" font-size="11.45" text-anchor="start" textLength="16" lengthAdjust="spacingAndGlyphs" fill="#000" stroke="#000" stroke-width="0.18">pre</text>
<text transform="translate(494.6 226.3)" font-size="11.45" text-anchor="start" textLength="20.8" lengthAdjust="spacingAndGlyphs" fill="#000" stroke="#000" stroke-width="0.18">leuk</text>
<text transform="translate(411.3 250)" font-size="11.45" text-anchor="end" textLength="47.5" lengthAdjust="spacingAndGlyphs" fill="#000" stroke="#000" stroke-width="0.18">Rac1 GTP</text>
<clipPath id="cF1"><rect x="421.3" y="233.5" width="95.7" height="23.8"/></clipPath>
<rect x="421.3" y="233.5" width="95.7" height="23.8" fill="url(#g1)" stroke="none" stroke-width="0"/>
<g clip-path="url(#cF1)">
<ellipse cx="458.5" cy="245" rx="16" ry="9" fill="#555" opacity="0.28" filter="url(#b4)"/>
<rect x="430.20" y="243.30" width="12" height="3.8" rx="1.9" ry="1.9" fill="#222" opacity="0.75" filter="url(#b2)" transform="rotate(-4 436.2 245.2)"/>
<rect x="449.30" y="239.40" width="18.6" height="8.4" rx="3.5" ry="3.5" fill="#000" opacity="1" filter="url(#b1)"/>
<ellipse cx="457.5" cy="252.5" rx="8" ry="2.2" fill="#555" opacity="0.4" filter="url(#b2)"/>
<ellipse cx="481.7" cy="246" rx="4.5" ry="1.5" fill="#777" opacity="0.38" filter="url(#b2)"/>
<rect x="497.90" y="244.40" width="13" height="3.8" rx="1.9" ry="1.9" fill="#222" opacity="0.8" filter="url(#b2)" transform="rotate(2 504.4 246.3)"/>
</g>
<rect x="421.3" y="233.5" width="95.7" height="23.8" fill="none" stroke="#2a2a2a" stroke-width="1.1"/>
<text transform="translate(437.7 270.5) scale(0.915 1)" font-size="9.75" text-anchor="middle" fill="#000" stroke="#000" stroke-width="0.18">1</text>
<text transform="translate(457.7 270.5) scale(0.915 1)" font-size="9.75" text-anchor="middle" fill="#000" stroke="#000" stroke-width="0.18">20</text>
<text transform="translate(483 270.5) scale(0.915 1)" font-size="9.75" text-anchor="middle" fill="#000" stroke="#000" stroke-width="0.18">0.1</text>
<text transform="translate(505 270.5) scale(0.915 1)" font-size="9.75" text-anchor="middle" fill="#000" stroke="#000" stroke-width="0.18">1</text>
<text transform="translate(411.3 292)" font-size="11.45" text-anchor="end" textLength="51.3" lengthAdjust="spacingAndGlyphs" fill="#000" stroke="#000" stroke-width="0.18">Rac1 Total</text>
<clipPath id="cF2"><rect x="421.3" y="274.7" width="95.7" height="24.5"/></clipPath>
<rect x="421.3" y="274.7" width="95.7" height="24.5" fill="url(#g2)" stroke="none" stroke-width="0"/>
<g clip-path="url(#cF2)">
<rect x="424.20" y="281.30" width="22" height="4.6" rx="2.3" ry="2.3" fill="#000" opacity="1" filter="url(#b1)"/>
<rect x="447.50" y="281.30" width="21" height="4.6" rx="2.3" ry="2.3" fill="#000" opacity="1" filter="url(#b1)"/>
<rect x="471.50" y="282.30" width="18" height="3.8" rx="1.9" ry="1.9" fill="#222" opacity="0.8" filter="url(#b1)" transform="rotate(5 480.5 284.2)"/>
<rect x="481.00" y="282.50" width="8" height="4" rx="2.0" ry="2.0" fill="#000" opacity="0.6" filter="url(#b1)"/>
<rect x="494.00" y="282.20" width="20" height="4" rx="2.0" ry="2.0" fill="#333" opacity="0.75" filter="url(#b1)"/>
<rect x="426.50" y="291.10" width="18" height="3" rx="1.5" ry="1.5" fill="#666" opacity="0.5" filter="url(#b2)"/>
<rect x="449.30" y="291.10" width="18" height="3" rx="1.5" ry="1.5" fill="#666" opacity="0.5" filter="url(#b2)"/>
<rect x="472.50" y="291.10" width="18" height="3" rx="1.5" ry="1.5" fill="#666" opacity="0.5" filter="url(#b2)"/>
<rect x="495.50" y="291.10" width="18" height="3" rx="1.5" ry="1.5" fill="#666" opacity="0.5" filter="url(#b2)"/>
</g>
<rect x="421.3" y="274.7" width="95.7" height="24.5" fill="none" stroke="#2a2a2a" stroke-width="1.1"/>
<text transform="translate(411.3 321.3)" font-size="11.45" text-anchor="end" textLength="47.5" lengthAdjust="spacingAndGlyphs" fill="#000" stroke="#000" stroke-width="0.18">Rac2 GTP</text>
<clipPath id="cF3"><rect x="421.3" y="304.5" width="95.7" height="24.4"/></clipPath>
<rect x="421.3" y="304.5" width="95.7" height="24.4" fill="url(#g3)" stroke="none" stroke-width="0"/>
<g clip-path="url(#cF3)">
<rect x="453.25" y="315.90" width="15.5" height="3.6" rx="1.8" ry="1.8" fill="#4a4a4a" opacity="0.62" filter="url(#b2)" transform="rotate(-4 461 317.7)"/>
<ellipse cx="483.5" cy="326" rx="1" ry="0.8" fill="#888" opacity="0.5" filter="url(#b3)"/>
</g>
<rect x="421.3" y="304.5" width="95.7" height="24.4" fill="none" stroke="#2a2a2a" stroke-width="1.1"/>
<text transform="translate(408.8 351.3)" font-size="11.45" text-anchor="end" textLength="51.3" lengthAdjust="spacingAndGlyphs" fill="#000" stroke="#000" stroke-width="0.18">Rac2 Total</text>
<clipPath id="cF4"><rect x="421.3" y="334.3" width="95.7" height="24.4"/></clipPath>
<rect x="421.3" y="334.3" width="95.7" height="24.4" fill="url(#g4)" stroke="none" stroke-width="0"/>
<g clip-path="url(#cF4)">
<ellipse cx="436.7" cy="345.7" rx="8.8" ry="3.7" fill="#000" opacity="1" filter="url(#b3)"/>
<ellipse cx="458.1" cy="346.3" rx="8.6" ry="3.7" fill="#000" opacity="1" filter="url(#b3)"/>
<ellipse cx="480.3" cy="346.9" rx="9.1" ry="3.7" fill="#000" opacity="1" filter="url(#b3)"/>
<ellipse cx="503.6" cy="346.9" rx="9.5" ry="3.7" fill="#000" opacity="1" filter="url(#b3)"/>
</g>
<rect x="421.3" y="334.3" width="95.7" height="24.4" fill="none" stroke="#2a2a2a" stroke-width="1.1"/>
<text transform="translate(411.3 380.6)" font-size="11.45" text-anchor="end" textLength="36" lengthAdjust="spacingAndGlyphs" fill="#000" stroke="#000" stroke-width="0.18">Tubulin</text>
<clipPath id="cF5"><rect x="421.3" y="363.7" width="95.7" height="24.8"/></clipPath>
<rect x="421.3" y="363.7" width="95.7" height="24.8" fill="url(#g7)" stroke="none" stroke-width="0"/>
<g clip-path="url(#cF5)">
<rect x="427.95" y="374.30" width="15.5" height="4.2" rx="2.1" ry="2.1" fill="#0c0c0c" opacity="0.9" filter="url(#b1)"/>
<rect x="450.40" y="374.60" width="14.6" height="3.6" rx="1.8" ry="1.8" fill="#0c0c0c" opacity="0.9" filter="url(#b1)"/>
<rect x="472.60" y="374.70" width="13.2" height="3.4" rx="1.7" ry="1.7" fill="#0c0c0c" opacity="0.9" filter="url(#b1)"/>
<rect x="494.80" y="374.65" width="14.2" height="3.5" rx="1.75" ry="1.75" fill="#0c0c0c" opacity="0.9" filter="url(#b1)"/>
</g>
<rect x="421.3" y="363.7" width="95.7" height="24.8" fill="none" stroke="#2a2a2a" stroke-width="1.1"/>
<text transform="translate(7.4 423.7) scale(1 1)" font-size="14" text-anchor="start" font-weight="bold" fill="#000">G</text>
<line x1="66" y1="423" x2="66" y2="556.0" stroke="#1a1a1a" stroke-width="1.3"/>
<line x1="65.5" y1="555.5" x2="186" y2="555.5" stroke="#1a1a1a" stroke-width="1.3"/>
<line x1="62.5" y1="555.5" x2="66" y2="555.5" stroke="#1a1a1a" stroke-width="1.2"/>
<text transform="translate(56.5 558.4) scale(1.1 1)" font-size="8.9" text-anchor="end" fill="#000" stroke="#000" stroke-width="0.18">0</text>
<line x1="62.5" y1="529.0" x2="66" y2="529.0" stroke="#1a1a1a" stroke-width="1.2"/>
<text transform="translate(56.5 531.9) scale(1.1 1)" font-size="8.9" text-anchor="end" fill="#000" stroke="#000" stroke-width="0.18">0.2</text>
<line x1="62.5" y1="502.5" x2="66" y2="502.5" stroke="#1a1a1a" stroke-width="1.2"/>
<text transform="translate(56.5 505.4) scale(1.1 1)" font-size="8.9" text-anchor="end" fill="#000" stroke="#000" stroke-width="0.18">0.4</text>
<line x1="62.5" y1="476.0" x2="66" y2="476.0" stroke="#1a1a1a" stroke-width="1.2"/>
<text transform="translate(56.5 478.9) scale(1.1 1)" font-size="8.9" text-anchor="end" fill="#000" stroke="#000" stroke-width="0.18">0.6</text>
<line x1="62.5" y1="449.5" x2="66" y2="449.5" stroke="#1a1a1a" stroke-width="1.2"/>
<text transform="translate(56.5 452.4) scale(1.1 1)" font-size="8.9" text-anchor="end" fill="#000" stroke="#000" stroke-width="0.18">0.8</text>
<line x1="62.5" y1="423.0" x2="66" y2="423.0" stroke="#1a1a1a" stroke-width="1.2"/>
<text transform="translate(56.5 425.9) scale(1.1 1)" font-size="8.9" text-anchor="end" fill="#000" stroke="#000" stroke-width="0.18">1</text>
<line x1="66" y1="555.5" x2="66" y2="559.0" stroke="#1a1a1a" stroke-width="1.2"/>
<text transform="translate(66.3 571.5) scale(1.02 1)" font-size="9.33" text-anchor="middle" fill="#000" stroke="#000" stroke-width="0.18">0.005</text>
<line x1="118" y1="555.5" x2="118" y2="559.0" stroke="#1a1a1a" stroke-width="1.2"/>
<text transform="translate(118.5 571.5) scale(1.02 1)" font-size="9.33" text-anchor="middle" fill="#000" stroke="#000" stroke-width="0.18">0.05</text>
<line x1="169.5" y1="555.5" x2="169.5" y2="559.0" stroke="#1a1a1a" stroke-width="1.2"/>
<text transform="translate(170.0 571.5) scale(1.02 1)" font-size="9.33" text-anchor="middle" fill="#000" stroke="#000" stroke-width="0.18">0.5</text>
<text transform="translate(28 490.2) rotate(-90) scale(0.96 1)" font-size="11.45" text-anchor="middle" fill="#000" stroke="#000" stroke-width="0.18">Live cells</text>
<text transform="translate(67.5 589.6)" font-size="11.45" text-anchor="start" textLength="88.8" lengthAdjust="spacingAndGlyphs" fill="#000" stroke="#000" stroke-width="0.18">Doxorubicin (µM)</text>
<polyline points="76.50,423.00 92.00,456.20 107.20,475.50 122.50,492.00 138.20,508.00 153.80,518.80 169.50,535.50 185.00,550.00" fill="none" stroke="#000" stroke-width="1.4" stroke-linejoin="round"/>
<line x1="73.8" y1="423" x2="79.2" y2="423" stroke="#000" stroke-width="0.9"/>
<line x1="92" y1="455.7" x2="92" y2="456.7" stroke="#000" stroke-width="0.9"/>
<line x1="89.3" y1="455.7" x2="94.7" y2="455.7" stroke="#000" stroke-width="0.9"/>
<line x1="89.3" y1="456.7" x2="94.7" y2="456.7" stroke="#000" stroke-width="0.9"/>
<line x1="107.2" y1="475.0" x2="107.2" y2="476.0" stroke="#000" stroke-width="0.9"/>
<line x1="104.5" y1="475.0" x2="109.9" y2="475.0" stroke="#000" stroke-width="0.9"/>
<line x1="104.5" y1="476.0" x2="109.9" y2="476.0" stroke="#000" stroke-width="0.9"/>
<line x1="122.5" y1="491.5" x2="122.5" y2="492.5" stroke="#000" stroke-width="0.9"/>
<line x1="119.8" y1="491.5" x2="125.2" y2="491.5" stroke="#000" stroke-width="0.9"/>
<line x1="119.8" y1="492.5" x2="125.2" y2="492.5" stroke="#000" stroke-width="0.9"/>
<line x1="138.2" y1="507.5" x2="138.2" y2="508.5" stroke="#000" stroke-width="0.9"/>
<line x1="135.5" y1="507.5" x2="140.89999999999998" y2="507.5" stroke="#000" stroke-width="0.9"/>
<line x1="135.5" y1="508.5" x2="140.89999999999998" y2="508.5" stroke="#000" stroke-width="0.9"/>
<line x1="153.8" y1="518.3" x2="153.8" y2="519.3" stroke="#000" stroke-width="0.9"/>
<line x1="151.10000000000002" y1="518.3" x2="156.5" y2="518.3" stroke="#000" stroke-width="0.9"/>
<line x1="151.10000000000002" y1="519.3" x2="156.5" y2="519.3" stroke="#000" stroke-width="0.9"/>
<line x1="169.5" y1="533.5" x2="169.5" y2="537.5" stroke="#000" stroke-width="0.9"/>
<line x1="166.8" y1="533.5" x2="172.2" y2="533.5" stroke="#000" stroke-width="0.9"/>
<line x1="166.8" y1="537.5" x2="172.2" y2="537.5" stroke="#000" stroke-width="0.9"/>
<line x1="185" y1="548.8" x2="185" y2="551.2" stroke="#000" stroke-width="0.9"/>
<line x1="182.3" y1="548.8" x2="187.7" y2="548.8" stroke="#000" stroke-width="0.9"/>
<line x1="182.3" y1="551.2" x2="187.7" y2="551.2" stroke="#000" stroke-width="0.9"/>
<polyline points="76.50,423.00 92.00,471.50 107.20,488.00 122.50,509.50 138.20,516.30 153.80,525.00 169.50,530.00 185.00,551.30" fill="none" stroke="#000" stroke-width="1.4" stroke-linejoin="round"/>
<line x1="73.8" y1="423" x2="79.2" y2="423" stroke="#000" stroke-width="0.9"/>
<line x1="92" y1="470.5" x2="92" y2="472.5" stroke="#000" stroke-width="0.9"/>
<line x1="89.3" y1="470.5" x2="94.7" y2="470.5" stroke="#000" stroke-width="0.9"/>
<line x1="89.3" y1="472.5" x2="94.7" y2="472.5" stroke="#000" stroke-width="0.9"/>
<line x1="107.2" y1="486.8" x2="107.2" y2="489.2" stroke="#000" stroke-width="0.9"/>
<line x1="104.5" y1="486.8" x2="109.9" y2="486.8" stroke="#000" stroke-width="0.9"/>
<line x1="104.5" y1="489.2" x2="109.9" y2="489.2" stroke="#000" stroke-width="0.9"/>
<line x1="122.5" y1="507.3" x2="122.5" y2="511.7" stroke="#000" stroke-width="0.9"/>
<line x1="119.8" y1="507.3" x2="125.2" y2="507.3" stroke="#000" stroke-width="0.9"/>
<line x1="119.8" y1="511.7" x2="125.2" y2="511.7" stroke="#000" stroke-width="0.9"/>
<line x1="138.2" y1="515.8" x2="138.2" y2="516.8" stroke="#000" stroke-width="0.9"/>
<line x1="135.5" y1="515.8" x2="140.89999999999998" y2="515.8" stroke="#000" stroke-width="0.9"/>
<line x1="135.5" y1="516.8" x2="140.89999999999998" y2="516.8" stroke="#000" stroke-width="0.9"/>
<line x1="153.8" y1="524.5" x2="153.8" y2="525.5" stroke="#000" stroke-width="0.9"/>
<line x1="151.10000000000002" y1="524.5" x2="156.5" y2="524.5" stroke="#000" stroke-width="0.9"/>
<line x1="151.10000000000002" y1="525.5" x2="156.5" y2="525.5" stroke="#000" stroke-width="0.9"/>
<line x1="169.5" y1="529.5" x2="169.5" y2="530.5" stroke="#000" stroke-width="0.9"/>
<line x1="166.8" y1="529.5" x2="172.2" y2="529.5" stroke="#000" stroke-width="0.9"/>
<line x1="166.8" y1="530.5" x2="172.2" y2="530.5" stroke="#000" stroke-width="0.9"/>
<line x1="185" y1="550.3" x2="185" y2="552.3" stroke="#000" stroke-width="0.9"/>
<line x1="182.3" y1="550.3" x2="187.7" y2="550.3" stroke="#000" stroke-width="0.9"/>
<line x1="182.3" y1="552.3" x2="187.7" y2="552.3" stroke="#000" stroke-width="0.9"/>
<polyline points="76.50,423.00 92.00,474.50 107.20,496.30 122.50,515.50 138.20,526.30 153.80,534.50 169.50,543.00 185.00,552.00" fill="none" stroke="#000" stroke-width="1.4" stroke-linejoin="round"/>
<line x1="73.8" y1="423" x2="79.2" y2="423" stroke="#000" stroke-width="0.9"/>
<line x1="92" y1="473.7" x2="92" y2="475.3" stroke="#000" stroke-width="0.9"/>
<line x1="89.3" y1="473.7" x2="94.7" y2="473.7" stroke="#000" stroke-width="0.9"/>
<line x1="89.3" y1="475.3" x2="94.7" y2="475.3" stroke="#000" stroke-width="0.9"/>
<line x1="107.2" y1="494.0" x2="107.2" y2="498.6" stroke="#000" stroke-width="0.9"/>
<line x1="104.5" y1="494.0" x2="109.9" y2="494.0" stroke="#000" stroke-width="0.9"/>
<line x1="104.5" y1="498.6" x2="109.9" y2="498.6" stroke="#000" stroke-width="0.9"/>
<line x1="122.5" y1="514.0" x2="122.5" y2="517.0" stroke="#000" stroke-width="0.9"/>
<line x1="119.8" y1="514.0" x2="125.2" y2="514.0" stroke="#000" stroke-width="0.9"/>
<line x1="119.8" y1="517.0" x2="125.2" y2="517.0" stroke="#000" stroke-width="0.9"/>
<line x1="138.2" y1="525.8" x2="138.2" y2="526.8" stroke="#000" stroke-width="0.9"/>
<line x1="135.5" y1="525.8" x2="140.89999999999998" y2="525.8" stroke="#000" stroke-width="0.9"/>
<line x1="135.5" y1="526.8" x2="140.89999999999998" y2="526.8" stroke="#000" stroke-width="0.9"/>
<line x1="153.8" y1="534.0" x2="153.8" y2="535.0" stroke="#000" stroke-width="0.9"/>
<line x1="151.10000000000002" y1="534.0" x2="156.5" y2="534.0" stroke="#000" stroke-width="0.9"/>
<line x1="151.10000000000002" y1="535.0" x2="156.5" y2="535.0" stroke="#000" stroke-width="0.9"/>
<line x1="169.5" y1="542.5" x2="169.5" y2="543.5" stroke="#000" stroke-width="0.9"/>
<line x1="166.8" y1="542.5" x2="172.2" y2="542.5" stroke="#000" stroke-width="0.9"/>
<line x1="166.8" y1="543.5" x2="172.2" y2="543.5" stroke="#000" stroke-width="0.9"/>
<line x1="185" y1="551.5" x2="185" y2="552.5" stroke="#000" stroke-width="0.9"/>
<line x1="182.3" y1="551.5" x2="187.7" y2="551.5" stroke="#000" stroke-width="0.9"/>
<line x1="182.3" y1="552.5" x2="187.7" y2="552.5" stroke="#000" stroke-width="0.9"/>
<polyline points="76.50,423.00 92.00,424.50 107.20,426.30 122.50,435.00 138.20,450.00 153.80,478.80 169.50,499.00 185.00,512.00" fill="none" stroke="#000" stroke-width="1.3" stroke-linejoin="round" stroke-dasharray="3.5 1.5"/>
<line x1="73.8" y1="423" x2="79.2" y2="423" stroke="#000" stroke-width="0.9"/>
<line x1="92" y1="423.7" x2="92" y2="425.3" stroke="#000" stroke-width="0.9"/>
<line x1="89.3" y1="423.7" x2="94.7" y2="423.7" stroke="#000" stroke-width="0.9"/>
<line x1="89.3" y1="425.3" x2="94.7" y2="425.3" stroke="#000" stroke-width="0.9"/>
<line x1="107.2" y1="424.8" x2="107.2" y2="427.8" stroke="#000" stroke-width="0.9"/>
<line x1="104.5" y1="424.8" x2="109.9" y2="424.8" stroke="#000" stroke-width="0.9"/>
<line x1="104.5" y1="427.8" x2="109.9" y2="427.8" stroke="#000" stroke-width="0.9"/>
<line x1="122.5" y1="433.2" x2="122.5" y2="436.8" stroke="#000" stroke-width="0.9"/>
<line x1="119.8" y1="433.2" x2="125.2" y2="433.2" stroke="#000" stroke-width="0.9"/>
<line x1="119.8" y1="436.8" x2="125.2" y2="436.8" stroke="#000" stroke-width="0.9"/>
<line x1="138.2" y1="447.8" x2="138.2" y2="452.2" stroke="#000" stroke-width="0.9"/>
<line x1="135.5" y1="447.8" x2="140.89999999999998" y2="447.8" stroke="#000" stroke-width="0.9"/>
<line x1="135.5" y1="452.2" x2="140.89999999999998" y2="452.2" stroke="#000" stroke-width="0.9"/>
<line x1="153.8" y1="476.6" x2="153.8" y2="481.0" stroke="#000" stroke-width="0.9"/>
<line x1="151.10000000000002" y1="476.6" x2="156.5" y2="476.6" stroke="#000" stroke-width="0.9"/>
<line x1="151.10000000000002" y1="481.0" x2="156.5" y2="481.0" stroke="#000" stroke-width="0.9"/>
<line x1="169.5" y1="495.5" x2="169.5" y2="502.5" stroke="#000" stroke-width="0.9"/>
<line x1="166.8" y1="495.5" x2="172.2" y2="495.5" stroke="#000" stroke-width="0.9"/>
<line x1="166.8" y1="502.5" x2="172.2" y2="502.5" stroke="#000" stroke-width="0.9"/>
<line x1="185" y1="510.8" x2="185" y2="513.2" stroke="#000" stroke-width="0.9"/>
<line x1="182.3" y1="510.8" x2="187.7" y2="510.8" stroke="#000" stroke-width="0.9"/>
<line x1="182.3" y1="513.2" x2="187.7" y2="513.2" stroke="#000" stroke-width="0.9"/>
<polyline points="76.50,423.00 92.00,424.50 107.20,429.50 122.50,440.00 138.20,461.30 153.80,482.50 169.50,505.50 185.00,530.00" fill="none" stroke="#000" stroke-width="1.3" stroke-linejoin="round" stroke-dasharray="3.5 1.5"/>
<line x1="73.8" y1="423" x2="79.2" y2="423" stroke="#000" stroke-width="0.9"/>
<line x1="92" y1="423.7" x2="92" y2="425.3" stroke="#000" stroke-width="0.9"/>
<line x1="89.3" y1="423.7" x2="94.7" y2="423.7" stroke="#000" stroke-width="0.9"/>
<line x1="89.3" y1="425.3" x2="94.7" y2="425.3" stroke="#000" stroke-width="0.9"/>
<line x1="107.2" y1="428.0" x2="107.2" y2="431.0" stroke="#000" stroke-width="0.9"/>
<line x1="104.5" y1="428.0" x2="109.9" y2="428.0" stroke="#000" stroke-width="0.9"/>
<line x1="104.5" y1="431.0" x2="109.9" y2="431.0" stroke="#000" stroke-width="0.9"/>
<line x1="122.5" y1="437.5" x2="122.5" y2="442.5" stroke="#000" stroke-width="0.9"/>
<line x1="119.8" y1="437.5" x2="125.2" y2="437.5" stroke="#000" stroke-width="0.9"/>
<line x1="119.8" y1="442.5" x2="125.2" y2="442.5" stroke="#000" stroke-width="0.9"/>
<line x1="138.2" y1="458.5" x2="138.2" y2="464.1" stroke="#000" stroke-width="0.9"/>
<line x1="135.5" y1="458.5" x2="140.89999999999998" y2="458.5" stroke="#000" stroke-width="0.9"/>
<line x1="135.5" y1="464.1" x2="140.89999999999998" y2="464.1" stroke="#000" stroke-width="0.9"/>
<line x1="153.8" y1="481.5" x2="153.8" y2="483.5" stroke="#000" stroke-width="0.9"/>
<line x1="151.10000000000002" y1="481.5" x2="156.5" y2="481.5" stroke="#000" stroke-width="0.9"/>
<line x1="151.10000000000002" y1="483.5" x2="156.5" y2="483.5" stroke="#000" stroke-width="0.9"/>
<line x1="169.5" y1="503.7" x2="169.5" y2="507.3" stroke="#000" stroke-width="0.9"/>
<line x1="166.8" y1="503.7" x2="172.2" y2="503.7" stroke="#000" stroke-width="0.9"/>
<line x1="166.8" y1="507.3" x2="172.2" y2="507.3" stroke="#000" stroke-width="0.9"/>
<line x1="185" y1="528.5" x2="185" y2="531.5" stroke="#000" stroke-width="0.9"/>
<line x1="182.3" y1="528.5" x2="187.7" y2="528.5" stroke="#000" stroke-width="0.9"/>
<line x1="182.3" y1="531.5" x2="187.7" y2="531.5" stroke="#000" stroke-width="0.9"/>
<polyline points="76.50,423.00 92.00,433.80 107.20,440.50 122.50,461.30 138.20,485.50 153.80,513.80 169.50,523.80 185.00,530.00" fill="none" stroke="#000" stroke-width="1.3" stroke-linejoin="round" stroke-dasharray="3.5 1.5"/>
<line x1="73.8" y1="423" x2="79.2" y2="423" stroke="#000" stroke-width="0.9"/>
<line x1="92" y1="430.8" x2="92" y2="436.8" stroke="#000" stroke-width="0.9"/>
<line x1="89.3" y1="430.8" x2="94.7" y2="430.8" stroke="#000" stroke-width="0.9"/>
<line x1="89.3" y1="436.8" x2="94.7" y2="436.8" stroke="#000" stroke-width="0.9"/>
<line x1="107.2" y1="438.5" x2="107.2" y2="442.5" stroke="#000" stroke-width="0.9"/>
<line x1="104.5" y1="438.5" x2="109.9" y2="438.5" stroke="#000" stroke-width="0.9"/>
<line x1="104.5" y1="442.5" x2="109.9" y2="442.5" stroke="#000" stroke-width="0.9"/>
<line x1="122.5" y1="460.8" x2="122.5" y2="461.8" stroke="#000" stroke-width="0.9"/>
<line x1="119.8" y1="460.8" x2="125.2" y2="460.8" stroke="#000" stroke-width="0.9"/>
<line x1="119.8" y1="461.8" x2="125.2" y2="461.8" stroke="#000" stroke-width="0.9"/>
<line x1="138.2" y1="483.5" x2="138.2" y2="487.5" stroke="#000" stroke-width="0.9"/>
<line x1="135.5" y1="483.5" x2="140.89999999999998" y2="483.5" stroke="#000" stroke-width="0.9"/>
<line x1="135.5" y1="487.5" x2="140.89999999999998" y2="487.5" stroke="#000" stroke-width="0.9"/>
<line x1="153.8" y1="512.5999999999999" x2="153.8" y2="515.0" stroke="#000" stroke-width="0.9"/>
<line x1="151.10000000000002" y1="512.5999999999999" x2="156.5" y2="512.5999999999999" stroke="#000" stroke-width="0.9"/>
<line x1="151.10000000000002" y1="515.0" x2="156.5" y2="515.0" stroke="#000" stroke-width="0.9"/>
<line x1="169.5" y1="521.3" x2="169.5" y2="526.3" stroke="#000" stroke-width="0.9"/>
<line x1="166.8" y1="521.3" x2="172.2" y2="521.3" stroke="#000" stroke-width="0.9"/>
<line x1="166.8" y1="526.3" x2="172.2" y2="526.3" stroke="#000" stroke-width="0.9"/>
<line x1="185" y1="527.8" x2="185" y2="532.2" stroke="#000" stroke-width="0.9"/>
<line x1="182.3" y1="527.8" x2="187.7" y2="527.8" stroke="#000" stroke-width="0.9"/>
<line x1="182.3" y1="532.2" x2="187.7" y2="532.2" stroke="#000" stroke-width="0.9"/>
<line x1="155.3" y1="450" x2="173.5" y2="450" stroke="#000" stroke-width="1.3" stroke-dasharray="3.5 1.5"/>
<text transform="translate(177.3 452.6)" font-size="8.8" text-anchor="start" textLength="24.3" lengthAdjust="spacingAndGlyphs" fill="#000" stroke="#000" stroke-width="0.18">B6ME</text>
<line x1="155.8" y1="464.8" x2="173.5" y2="464.8" stroke="#000" stroke-width="1.4"/>
<text transform="translate(177.3 467.7)" font-size="8.8" text-anchor="start" textLength="35" lengthAdjust="spacingAndGlyphs" fill="#000" stroke="#000" stroke-width="0.18">F123ME</text>
<text transform="translate(224 423.7) scale(1 1)" font-size="14" text-anchor="start" font-weight="bold" fill="#000">H</text>
<line x1="268.8" y1="555.5" x2="272.3" y2="555.5" stroke="#1a1a1a" stroke-width="1.2"/>
<text transform="translate(262.8 558.5) scale(1.06 1)" font-size="9.12" text-anchor="end" fill="#000" stroke="#000" stroke-width="0.18">0</text>
<line x1="268.8" y1="529.64" x2="272.3" y2="529.64" stroke="#1a1a1a" stroke-width="1.2"/>
<text transform="translate(262.8 532.64) scale(1.06 1)" font-size="9.12" text-anchor="end" fill="#000" stroke="#000" stroke-width="0.18">0.1</text>
<line x1="268.8" y1="503.78" x2="272.3" y2="503.78" stroke="#1a1a1a" stroke-width="1.2"/>
<text transform="translate(262.8 506.78) scale(1.06 1)" font-size="9.12" text-anchor="end" fill="#000" stroke="#000" stroke-width="0.18">0.2</text>
<line x1="268.8" y1="477.91999999999996" x2="272.3" y2="477.91999999999996" stroke="#1a1a1a" stroke-width="1.2"/>
<text transform="translate(262.8 480.91999999999996) scale(1.06 1)" font-size="9.12" text-anchor="end" fill="#000" stroke="#000" stroke-width="0.18">0.3</text>
<line x1="268.8" y1="452.06" x2="272.3" y2="452.06" stroke="#1a1a1a" stroke-width="1.2"/>
<text transform="translate(262.8 455.06) scale(1.06 1)" font-size="9.12" text-anchor="end" fill="#000" stroke="#000" stroke-width="0.18">0.4</text>
<line x1="268.8" y1="426.2" x2="272.3" y2="426.2" stroke="#1a1a1a" stroke-width="1.2"/>
<text transform="translate(262.8 429.2) scale(1.06 1)" font-size="9.12" text-anchor="end" fill="#000" stroke="#000" stroke-width="0.18">0.5</text>
<rect x="286.3" y="484.3" width="18.7" height="71.2" fill="#fff" stroke="#000" stroke-width="1.05"/>
<rect x="305" y="545.5" width="18.7" height="10" fill="#b0b0b0" stroke="#000" stroke-width="1.05"/>
<line x1="272.3" y1="426.2" x2="272.3" y2="558.5" stroke="#1a1a1a" stroke-width="1.3"/>
<line x1="271.8" y1="555.5" x2="337.5" y2="555.5" stroke="#1a1a1a" stroke-width="1.3"/>
<line x1="337.5" y1="555.5" x2="337.5" y2="558.5" stroke="#1a1a1a" stroke-width="1.2"/>
<line x1="295.8" y1="453" x2="295.8" y2="515" stroke="#000" stroke-width="1.25"/>
<line x1="293.3" y1="453" x2="298.3" y2="453" stroke="#000" stroke-width="1.25"/>
<line x1="293.3" y1="515" x2="298.3" y2="515" stroke="#000" stroke-width="1.25"/>
<line x1="314.5" y1="541.3" x2="314.5" y2="550" stroke="#000" stroke-width="1.25"/>
<line x1="312.0" y1="541.3" x2="317.0" y2="541.3" stroke="#000" stroke-width="1.25"/>
<line x1="312.0" y1="550" x2="317.0" y2="550" stroke="#000" stroke-width="1.25"/>
<polyline points="295.8,446 295.8,437.5 314.5,437.5 314.5,525" fill="none" stroke="#000" stroke-width="1.35"/>
<text transform="translate(305.3 436.9) scale(1.0 1)" font-size="13.5" text-anchor="middle" fill="#000" stroke="#000" stroke-width="0.25" letter-spacing="0.7">**</text>
<text transform="translate(299.5 563.6) rotate(-90)" font-size="11.02" text-anchor="end" textLength="27.3" lengthAdjust="spacingAndGlyphs" fill="#000" stroke="#000" stroke-width="0.18">B6ME</text>
<text transform="translate(317.6 563.6) rotate(-90)" font-size="11.02" text-anchor="end" textLength="39.3" lengthAdjust="spacingAndGlyphs" fill="#000" stroke="#000" stroke-width="0.18">F123ME</text>
<text transform="translate(235.4 493) rotate(-90) scale(1.005 1)" font-size="11.45" text-anchor="middle" fill="#000" stroke="#000" stroke-width="0.18">IC 50 (µM)</text>
<text transform="translate(369.6 423.4) scale(1 1)" font-size="14" text-anchor="start" font-weight="bold" fill="#000">I</text>
<text transform="translate(406.7 502)" font-size="11.66" text-anchor="end" textLength="28.2" lengthAdjust="spacingAndGlyphs" fill="#000" stroke="#000" stroke-width="0.18">MCL1</text>
<text transform="translate(406.6 540.8)" font-size="11.66" text-anchor="end" textLength="37.2" lengthAdjust="spacingAndGlyphs" fill="#000" stroke="#000" stroke-width="0.18">Tubulin</text>
<clipPath id="cI1"><rect x="411.3" y="485.5" width="48.2" height="24"/></clipPath>
<rect x="411.3" y="485.5" width="48.2" height="24" fill="url(#g8)" stroke="none" stroke-width="0"/>
<g clip-path="url(#cI1)">
<ellipse cx="425" cy="496.5" rx="10" ry="3.2" fill="#555" opacity="0.45" filter="url(#b4)"/>
<rect x="415.25" y="497.30" width="19.5" height="6.2" rx="3.1" ry="3.1" fill="#000" opacity="1" filter="url(#b1)"/>
<ellipse cx="447.8" cy="496" rx="8" ry="2.2" fill="#666" opacity="0.4" filter="url(#b2)"/>
<rect x="439.55" y="498.70" width="16.5" height="3.8" rx="1.9" ry="1.9" fill="#1a1a1a" opacity="0.85" filter="url(#b1)"/>
</g>
<rect x="411.3" y="485.5" width="48.2" height="24" fill="none" stroke="#2a2a2a" stroke-width="1.1"/>
<clipPath id="cI2"><rect x="462.3" y="485.5" width="48.6" height="24"/></clipPath>
<rect x="462.3" y="485.5" width="48.6" height="24" fill="url(#g8)" stroke="none" stroke-width="0"/>
<g clip-path="url(#cI2)">
<ellipse cx="473" cy="495.5" rx="10" ry="3" fill="#555" opacity="0.45" filter="url(#b4)"/>
<rect x="463.50" y="496.30" width="19" height="6" rx="3.0" ry="3.0" fill="#050505" opacity="0.97" filter="url(#b1)" transform="rotate(6 473 499.3)"/>
<ellipse cx="495.2" cy="497" rx="8.5" ry="2.4" fill="#666" opacity="0.4" filter="url(#b2)"/>
<rect x="486.20" y="499.40" width="18" height="4.4" rx="2.2" ry="2.2" fill="#1a1a1a" opacity="0.85" filter="url(#b1)" transform="rotate(5 495.2 501.6)"/>
</g>
<rect x="462.3" y="485.5" width="48.6" height="24" fill="none" stroke="#2a2a2a" stroke-width="1.1"/>
<clipPath id="cI3"><rect x="411.3" y="525.7" width="48.2" height="24"/></clipPath>
<rect x="411.3" y="525.7" width="48.2" height="24" fill="url(#g6)" stroke="none" stroke-width="0"/>
<g clip-path="url(#cI3)">
<rect x="414.90" y="534.40" width="18.6" height="5.6" rx="2.8" ry="2.8" fill="#000" opacity="1" filter="url(#b1)"/>
<rect x="436.50" y="535.00" width="20" height="5.2" rx="2.6" ry="2.6" fill="#000" opacity="1" filter="url(#b1)"/>
</g>
<rect x="411.3" y="525.7" width="48.2" height="24" fill="none" stroke="#2a2a2a" stroke-width="1.1"/>
<clipPath id="cI4"><rect x="462.3" y="525.7" width="48.6" height="24"/></clipPath>
<rect x="462.3" y="525.7" width="48.6" height="24" fill="url(#g6)" stroke="none" stroke-width="0"/>
<g clip-path="url(#cI4)">
<rect x="464.95" y="537.00" width="19.5" height="5.6" rx="2.8" ry="2.8" fill="#000" opacity="1" filter="url(#b1)"/>
<rect x="487.60" y="536.30" width="20" height="6" rx="3.0" ry="3.0" fill="#000" opacity="1" filter="url(#b1)"/>
</g>
<rect x="462.3" y="525.7" width="48.6" height="24" fill="none" stroke="#2a2a2a" stroke-width="1.1"/>
<text transform="translate(425 520) scale(0.915 1)" font-size="10.07" text-anchor="middle" fill="#000" stroke="#000" stroke-width="0.18">1</text>
<text transform="translate(446 520) scale(0.915 1)" font-size="10.07" text-anchor="middle" fill="#000" stroke="#000" stroke-width="0.18">0.3</text>
<text transform="translate(472.5 520) scale(0.915 1)" font-size="10.07" text-anchor="middle" fill="#000" stroke="#000" stroke-width="0.18">1</text>
<text transform="translate(494 520) scale(0.915 1)" font-size="10.07" text-anchor="middle" fill="#000" stroke="#000" stroke-width="0.18">0.5</text>
<text transform="translate(424.9 484.4) rotate(-52) scale(0.93 1)" font-size="11.66" text-anchor="start" fill="#000" stroke="#000" stroke-width="0.18">B6ME.1</text>
<text transform="translate(446.9 484.4) rotate(-52) scale(0.93 1)" font-size="11.66" text-anchor="start" fill="#000" stroke="#000" stroke-width="0.18">F123.1</text>
<text transform="translate(475.9 484.4) rotate(-52) scale(0.93 1)" font-size="11.66" text-anchor="start" fill="#000" stroke="#000" stroke-width="0.18">B6ME.2</text>
<text transform="translate(497.9 484.4) rotate(-52) scale(0.93 1)" font-size="11.66" text-anchor="start" fill="#000" stroke="#000" stroke-width="0.18">F123.2</text>
</svg>
</body></html>
